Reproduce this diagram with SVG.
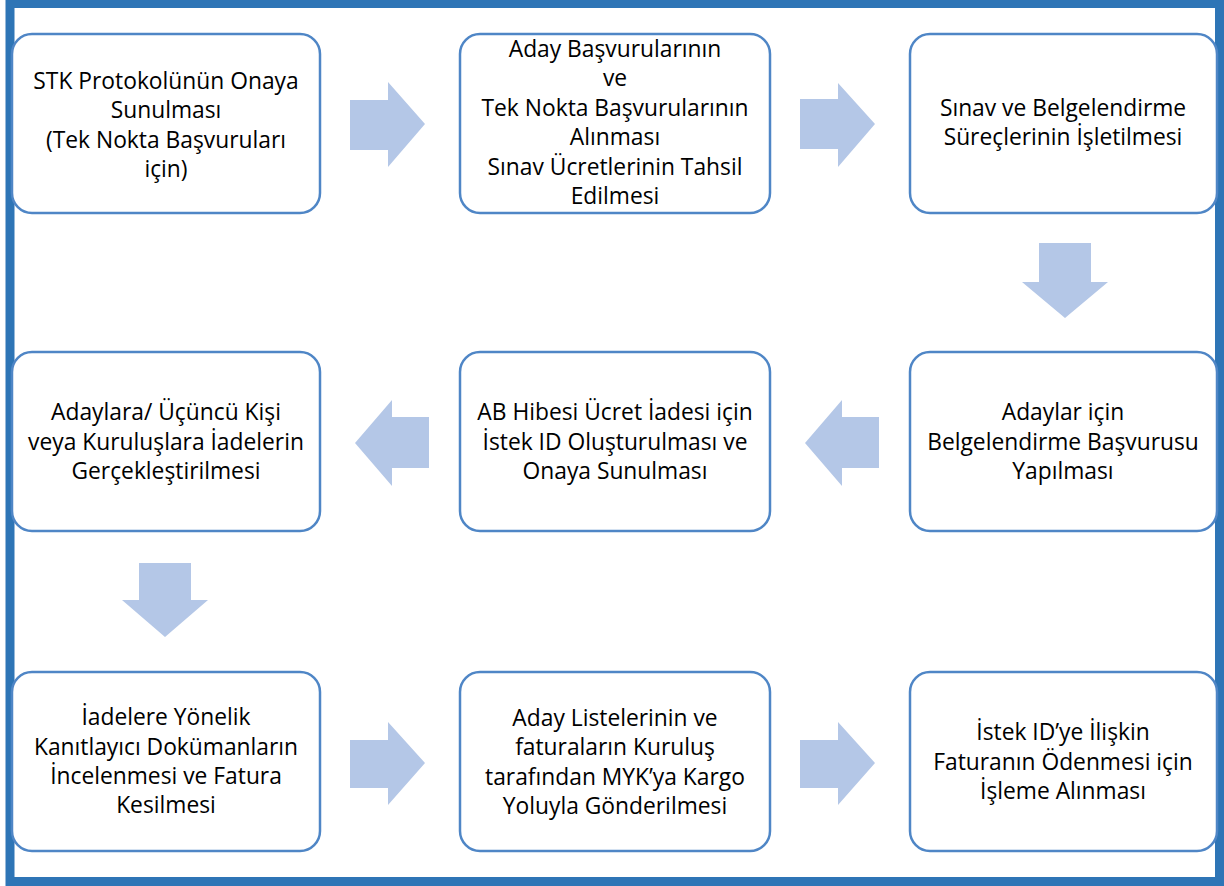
<svg xmlns="http://www.w3.org/2000/svg" width="1224" height="886" viewBox="0 0 1224 886">
<style>
.frame{fill:none;stroke:#2E75B6;stroke-width:9}
.box{fill:#fff;stroke:#4F86C6;stroke-width:2.5}
.arr{fill:#B4C7E7}
text{font-family:"Open Sans","Noto Sans","Liberation Sans",sans-serif;font-size:22.8px;fill:#000;text-anchor:middle}
</style>
<rect width="1224" height="886" fill="#fff"/>
<rect class="frame" x="10" y="3.5" width="1209.5" height="878"/>
<g id="connectors">
<polygon class="arr" points="350,100 388,100 388,82 425,124 388,167 388,150 350,150"/>
<polygon class="arr" points="800,99 838,99 838,83 875,124 838,167 838,149 800,149"/>
<polygon class="arr" points="1039,243 1091,243 1091,282 1108,282 1065,318 1022,282 1039,282"/>
<polygon class="arr" points="879,417 842,417 842,400 805,443 842,486 842,468 879,468"/>
<polygon class="arr" points="429,417 392,417 392,400 355,443 392,486 392,468 429,468"/>
<polygon class="arr" points="139,563 191,563 191,600 208,600 165,637 122,600 139,600"/>
<polygon class="arr" points="350,740 388,740 388,722 425,763 388,805 388,788 350,788"/>
<polygon class="arr" points="800,740 838,740 838,722 875,763 838,805 838,788 800,788"/>
</g>
<g id="n1"><rect class="box" x="12" y="34" width="308" height="179" rx="20"/>
<text x="166" y="89">STK Protokolünün Onaya</text><text x="166" y="118">Sunulması</text><text x="166" y="148">(Tek Nokta Başvuruları</text><text x="166" y="177">için)</text></g>
<g id="n2"><rect class="box" x="460" y="34" width="310" height="179" rx="20"/>
<text x="615" y="57">Aday Başvurularının</text><text x="615" y="86">ve</text><text x="615" y="116">Tek Nokta Başvurularının</text><text x="615" y="145">Alınması</text><text x="615" y="175">Sınav Ücretlerinin Tahsil</text><text x="615" y="204">Edilmesi</text></g>
<g id="n3"><rect class="box" x="910" y="34" width="307" height="179" rx="20"/>
<text x="1063" y="116">Sınav ve Belgelendirme</text><text x="1063" y="145">Süreçlerinin İşletilmesi</text></g>
<g id="n4"><rect class="box" x="910" y="352" width="307" height="179" rx="20"/>
<text x="1063" y="420">Adaylar için</text><text x="1063" y="450">Belgelendirme Başvurusu</text><text x="1063" y="479">Yapılması</text></g>
<g id="n5"><rect class="box" x="460" y="352" width="310" height="179" rx="20"/>
<text x="615" y="420">AB Hibesi Ücret İadesi için</text><text x="615" y="450">İstek ID Oluşturulması ve</text><text x="615" y="479">Onaya Sunulması</text></g>
<g id="n6"><rect class="box" x="12" y="352" width="308" height="179" rx="20"/>
<text x="166" y="420">Adaylara/ Üçüncü Kişi</text><text x="166" y="450">veya Kuruluşlara İadelerin</text><text x="166" y="479">Gerçekleştirilmesi</text></g>
<g id="n7"><rect class="box" x="12" y="672" width="308" height="179" rx="20"/>
<text x="166" y="725">İadelere Yönelik</text><text x="166" y="755">Kanıtlayıcı Dokümanların</text><text x="166" y="784">İncelenmesi ve Fatura</text><text x="166" y="813">Kesilmesi</text></g>
<g id="n8"><rect class="box" x="460" y="672" width="310" height="179" rx="20"/>
<text x="615" y="726">Aday Listelerinin ve</text><text x="615" y="755">faturaların Kuruluş</text><text x="615" y="785">tarafından MYK’ya Kargo</text><text x="615" y="814">Yoluyla Gönderilmesi</text></g>
<g id="n9"><rect class="box" x="910" y="672" width="307" height="179" rx="20"/>
<text x="1063" y="740">İstek ID’ye İlişkin</text><text x="1063" y="770">Faturanın Ödenmesi için</text><text x="1063" y="799">İşleme Alınması</text></g>
</svg>
